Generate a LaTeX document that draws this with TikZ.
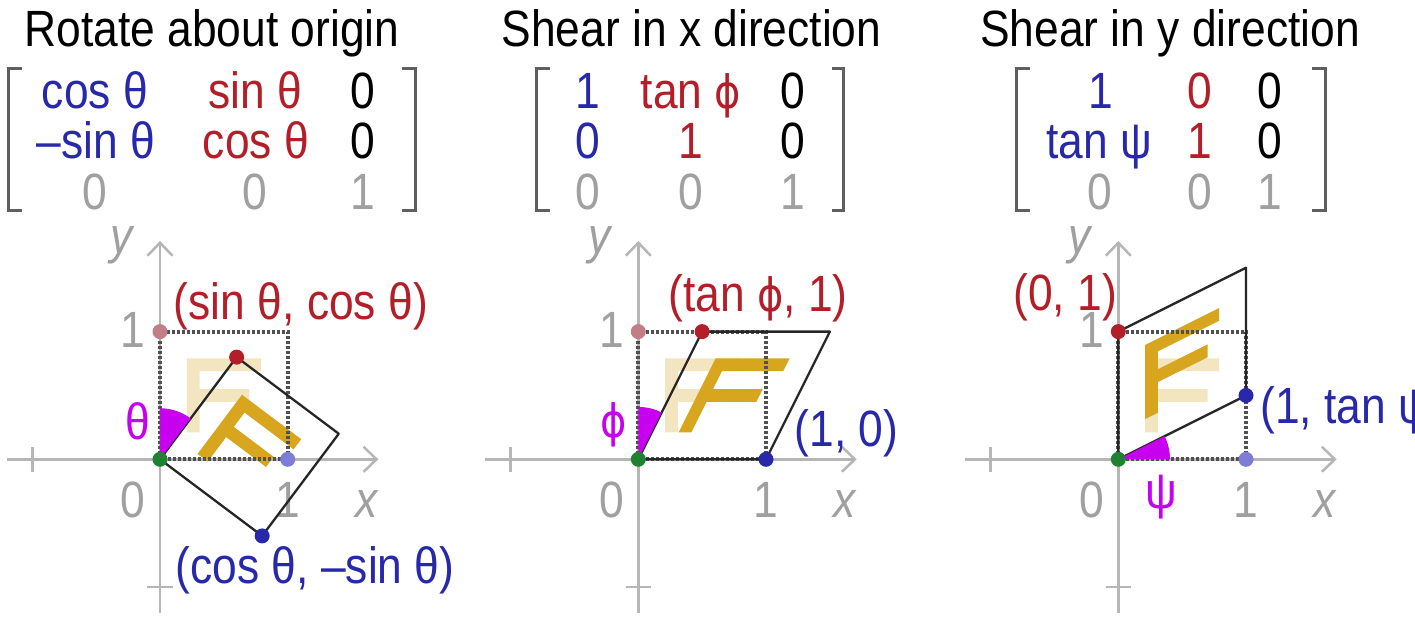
\documentclass[tikz,border=0pt]{standalone}
\usepackage{fontspec}
\setmainfont{Liberation Sans}
\newfontfamily\dvfont{DejaVu Sans}
\usetikzlibrary{arrows.meta}
\definecolor{mblue}{RGB}{40,40,170}
\definecolor{mred}{RGB}{180,30,40}
\definecolor{axisgray}{RGB}{182,182,182}
\definecolor{lgray}{RGB}{160,160,160}
\definecolor{gold}{RGB}{215,165,30}
\definecolor{mag}{RGB}{200,0,240}
\definecolor{fred}{RGB}{195,125,135}
\definecolor{fblue}{RGB}{125,125,215}
\definecolor{dgreen}{RGB}{30,130,50}
\definecolor{dotgray}{RGB}{80,80,80}
\definecolor{brkgray}{RGB}{95,95,95}
\newcommand\phichar{{\dvfont\fontsize{46}{58}\selectfont ϕ}}
\newcommand\drawF[1]{\fill[#1] (0.21,0.21) -- (0.31,0.21) -- (0.31,0.45) -- (0.70,0.45) -- (0.70,0.55) -- (0.31,0.55) -- (0.31,0.69) -- (0.79,0.69) -- (0.79,0.79) -- (0.21,0.79) -- cycle;}
\newcommand\panelbase{%
  \draw[ax] (-1.2,0) -- (1.71,0);
  \draw[ax] (0,-1.2) -- (0,1.71);
  \draw[tick] (-1,-0.1) -- (-1,0.1);
  \draw[tick] (-0.1,-1) -- (0.1,-1);
  \node[t, anchor=base, text=lgray] at (-0.211,-0.452) {0};
  \node[t, anchor=base, text=lgray] at (1,-0.452) {1};
  \node[t, anchor=base, text=lgray] at (-0.211,0.872) {1};
  \node[t, anchor=base, text=lgray, font=\fontsize{51}{58}\selectfont\itshape] at (1.619,-0.452) {x};
  \node[t, anchor=base, text=lgray, font=\fontsize{51}{58}\selectfont\itshape] at (-0.30,1.615) {y};
  \drawF{gold, opacity=0.28}
}
\begin{document}
\begin{tikzpicture}[x=1pt,y=-1pt,
  t/.style={inner sep=0pt, font=\fontsize{51}{58}\selectfont, xscale=0.87},
  ax/.style={draw=axisgray, line width=2.5pt, -{Straight Barb[length=13pt,width=25pt]}},
  tick/.style={draw=axisgray, line width=2.5pt},
  brk/.style={draw=brkgray, line width=3pt},
  unitsq/.style={draw=dotgray, line width=4pt, dash pattern=on 3pt off 2pt},
  shape edge/.style={draw=black!85, line width=2.3pt, line join=round},
  wedge/.style={fill=mag},
  pscope/.style={x=127.7pt, y=127.7pt}]
\useasboundingbox (0,0) rectangle (1415,637);
\fill[white] (0,0) rectangle (1415,637);

% ---------- titles ----------
\node[t, anchor=base] (title1) at (212,46) {Rotate about origin};
\node[t, anchor=base] (title2) at (691.5,46) {Shear in x direction};
\node[t, anchor=base] (title3) at (1170,46) {Shear in y direction};

% ---------- brackets ----------
\draw[brk] (21.7,68) -- (8.3,68) -- (8.3,210) -- (21.7,210);
\draw[brk] (401.7,68) -- (415,68) -- (415,210) -- (401.7,210);
\draw[brk] (550,68) -- (536.7,68) -- (536.7,210) -- (550,210);
\draw[brk] (831.7,68) -- (843.3,68) -- (843.3,210) -- (831.7,210);
\draw[brk] (1030,68) -- (1016.7,68) -- (1016.7,210) -- (1030,210);
\draw[brk] (1311.7,68) -- (1325,68) -- (1325,210) -- (1311.7,210);

% ---------- matrix 1 ----------
\node[t, anchor=base, text=mblue] (m11) at (95,108) {cos θ};
\node[t, anchor=base, text=mred] (m12) at (255,108) {sin θ};
\node[t, anchor=base] (m13) at (363,108) {0};
\node[t, anchor=base, text=mblue] (m21) at (96,158) {–sin θ};
\node[t, anchor=base, text=mred] (m22) at (256,158) {cos θ};
\node[t, anchor=base] (m23) at (363,158) {0};
\node[t, anchor=base, text=lgray] (m31) at (95,209) {0};
\node[t, anchor=base, text=lgray] (m32) at (255,209) {0};
\node[t, anchor=base, text=lgray] (m33) at (363,209) {1};

% ---------- matrix 2 ----------
\node[t, anchor=base, text=mblue] (n11) at (587.5,108) {1};
\node[t, anchor=base, text=mred] (n12) at (691,108) {tan \phichar};
\node[t, anchor=base] (n13) at (793,108) {0};
\node[t, anchor=base, text=mblue] (n21) at (587.5,158) {0};
\node[t, anchor=base, text=mred] (n22) at (691,158) {1};
\node[t, anchor=base] (n23) at (793,158) {0};
\node[t, anchor=base, text=lgray] (n31) at (587.5,209) {0};
\node[t, anchor=base, text=lgray] (n32) at (691,209) {0};
\node[t, anchor=base, text=lgray] (n33) at (793,209) {1};

% ---------- matrix 3 ----------
\node[t, anchor=base, text=mblue] (q11) at (1101,108) {1};
\node[t, anchor=base, text=mred] (q12) at (1200,108) {0};
\node[t, anchor=base] (q13) at (1270,108) {0};
\node[t, anchor=base, text=mblue] (q21) at (1099,158) {tan ψ};
\node[t, anchor=base, text=mred] (q22) at (1200,158) {1};
\node[t, anchor=base] (q23) at (1270,158) {0};
\node[t, anchor=base, text=lgray] (q31) at (1100,209) {0};
\node[t, anchor=base, text=lgray] (q32) at (1200,209) {0};
\node[t, anchor=base, text=lgray] (q33) at (1270,209) {1};

% ---------- panel 1: rotation ----------
\begin{scope}[shift={(160,459.3)}, pscope]
  \panelbase
  \begin{scope}[rotate=-36.87]\drawF{gold}\end{scope}
  \draw[unitsq] (0,0) rectangle (1,1);
  \draw[shape edge] (0,0) -- (0.8,-0.6) -- (1.4,0.2) -- (0.6,0.8) -- cycle;
  \fill[wedge] (0,0) -- (0,0.4) arc[start angle=90, end angle=53.13, radius=0.4] -- cycle;
  \fill[fred] (0,1) circle (7.5pt);
  \fill[fblue] (1,0) circle (7.5pt);
  \fill[mred] (0.6,0.8) circle (7.5pt);
  \fill[mblue] (0.8,-0.6) circle (7.5pt);
  \fill[dgreen] (0,0) circle (7.5pt);
  \node[t, text=mag] (theta) at (-0.17,0.295) {θ};
  \node[t, anchor=base, text=mred] (lab1) at (1.104,1.091) {(sin θ, cos θ)};
  \node[t, anchor=base, text=mblue] (lab2) at (1.214,-0.971) {(cos θ, –sin θ)};
\end{scope}

% ---------- panel 2: shear x ----------
\begin{scope}[shift={(638.3,459.3)}, pscope]
  \panelbase
  \begin{scope}[xslant=0.5]\drawF{gold}\end{scope}
  \draw[unitsq] (0,0) rectangle (1,1);
  \draw[shape edge] (0,0) -- (1,0) -- (1.5,1) -- (0.5,1) -- cycle;
  \fill[wedge] (0,0) -- (0,0.41) arc[start angle=90, end angle=63.43, radius=0.41] -- cycle;
  \fill[fred] (0,1) circle (7.5pt);
  \fill[mred] (0.5,1) circle (7.5pt);
  \fill[mblue] (1,0) circle (7.5pt);
  \fill[dgreen] (0,0) circle (7.5pt);
  \node[t, text=mag] (phi) at (-0.196,0.269) {\phichar};
  \node[t, anchor=base, text=mred] (lab3) at (0.937,1.156) {(tan \phichar, 1)};
  \node[t, anchor=base, text=mblue] (lab4) at (1.630,0.099) {(1, 0)};
\end{scope}

% ---------- panel 3: shear y ----------
\begin{scope}[shift={(1118.3,459.3)}, pscope]
  \panelbase
  \begin{scope}[yslant=0.5]\drawF{gold}\end{scope}
  \draw[unitsq] (0,0) rectangle (1,1);
  \draw[shape edge] (0,0) -- (1,0.5) -- (1,1.5) -- (0,1) -- cycle;
  \fill[wedge] (0,0) -- (0.405,0) arc[start angle=0, end angle=26.57, radius=0.405] -- cycle;
  \fill[fblue] (1,0) circle (7.5pt);
  \fill[mblue] (1,0.5) circle (7.5pt);
  \fill[mred] (0,1) circle (7.5pt);
  \fill[dgreen] (0,0) circle (7.5pt);
  \node[t, text=mag] (psi) at (0.34,-0.293) {ψ};
  \node[t, anchor=base, text=mred] (lab5) at (-0.417,1.169) {(0, 1)};
  \node[t, anchor=base west, text=mblue] (lab6) at (1.110,0.282) {(1, tan ψ)};
\end{scope}
\end{tikzpicture}
\end{document}
